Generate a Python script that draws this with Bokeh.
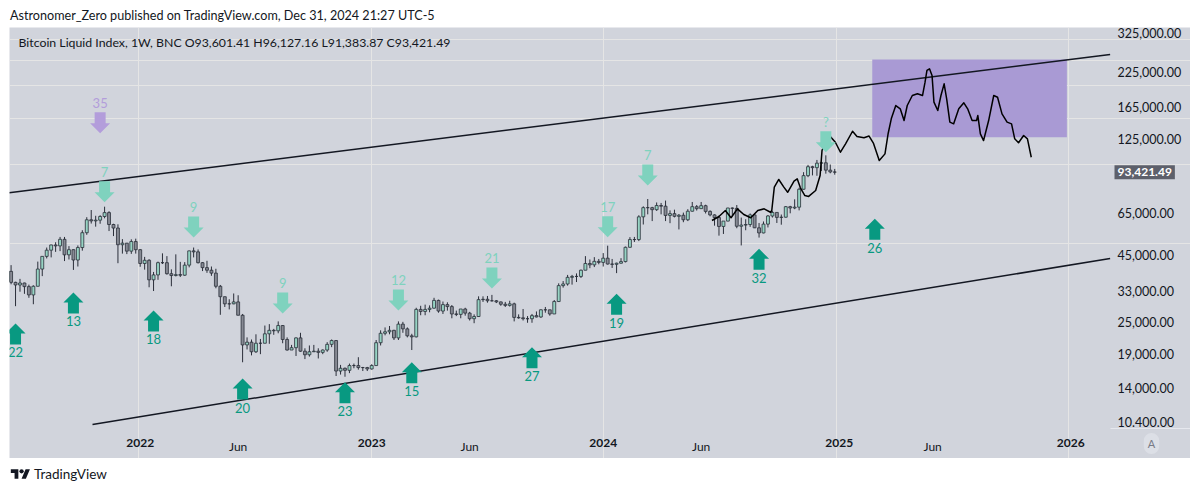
import math
import numpy as np
import pandas as pd
from bokeh.plotting import figure
from bokeh.models import (Range1d, FixedTicker, Label, Div, CustomJSTickFormatter, ColumnDataSource,
                          LogAxis, DatetimeAxis)
from bokeh.layouts import column
from bokeh.embed import file_html
from bokeh.resources import INLINE
from bokeh.core.properties import value

FONT = "Lato"
BG = "#d1d4dc"
INK = "#131722"
UP_FILL = "#97d4c4"
DOWN_FILL = "#878a94"
WICK = "#2a2e39"
DOWN_ARROW = "#7fd2be"
UP_ARROW = "#089981"
PURPLE_ARROW = "#b39ddb"
BOX_FILL = "#a99ad4"

# ---------------- weekly candles (Monday bars) ----------------
FIRST_WEEK = "2021-06-07"
OPEN = [
    35800, 39100, 35500, 34700, 35300, 34200, 31800, 34300, 39900, 44600, 47100, 49300, 48900, 51800, 45200,
    47300, 43200, 48200, 54900, 61500, 60900, 61300, 63300, 65500, 59000, 57200, 49400, 50100, 46700, 50800,
    47300, 41900, 43100, 36300, 37900, 42200, 42200, 38300, 37700, 38000, 37800, 41300, 46800, 46400, 42200,
    40400, 39500, 38500, 34300, 31300, 29400, 29400, 29900, 26600, 20500, 21000, 19300, 20800, 20800, 22600,
    23300, 23200, 24300, 21500, 19600, 20000, 21800, 19400, 18800, 19300, 19400, 19200, 19600, 20600, 21300,
    16300, 16700, 16400, 17100, 17100, 16800, 16800,
    16600, 17100, 20900, 22700, 23000, 23300, 21800, 24600, 23600, 22200, 22000, 28000, 27500, 28000, 28300,
    30300, 27600, 29200, 28700, 26900, 26800, 28100, 27100, 25800, 26300, 30500, 30600, 30200, 30200, 29900,
    29300, 29000, 29400, 26100, 26000, 25800, 25800, 26500, 26200, 27900, 27900, 26900, 30000, 34500, 35000,
    37100, 37400, 37400, 39500, 41900, 41400, 42700,
    42300, 43900, 41700, 41600, 42000, 42600, 48300, 51700, 51700, 63100, 68400, 68400, 67200, 69700, 69300,
    63900, 64900, 63400, 64000, 61500, 66300, 69000, 67800, 69600, 66200, 64200, 62700, 58000, 60800, 68200,
    68000, 58100, 58700, 59000, 64200, 57300, 54800, 59200, 63600, 65600, 62800, 62900, 69000, 68200, 68700,
    80400, 90600, 98000, 97200, 101100, 101400, 95100, 93601.41,
]
HIGH = [
    39500, 41300, 35700, 36600, 35400, 34800, 34600, 42600, 44700, 48200, 49400, 50500, 52900, 52900, 48800,
    47400, 49100, 56100, 62900, 67000, 63700, 64000, 69000, 66300, 59400, 59100, 51900, 50100, 51800, 52100,
    47500, 44400, 43500, 38900, 42600, 45800, 44700, 39800, 45400, 42500, 42400, 46900, 48200, 47400, 42400,
    42900, 40800, 40000, 34700, 31300, 30600, 32200, 31700, 26900, 21900, 21500, 22500, 21600, 24300, 24600,
    23600, 25200, 24400, 21900, 20500, 21900, 22800, 19900, 20400, 20500, 19900, 19700, 21000, 21500, 21400,
    17200, 16800, 17400, 17400, 18400, 16900, 16900,
    17300, 21400, 23300, 23900, 24200, 23400, 25200, 25100, 23900, 22600, 28400, 28900, 29200, 29000, 31000,
    30500, 30000, 29800, 29100, 27700, 27400, 28400, 27400, 26800, 31400, 31400, 31500, 31800, 30400, 30000,
    29900, 30200, 29700, 26800, 28100, 26400, 26900, 27500, 28000, 28600, 27900, 30400, 35200, 35900, 37900,
    37900, 38400, 39700, 44700, 43400, 44300, 43600,
    45900, 49000, 43600, 42200, 43900, 48600, 52800, 52900, 64000, 69200, 73800, 68900, 71600, 71300, 72800,
    66800, 67200, 64700, 65500, 67500, 71900, 70000, 71900, 70200, 66800, 64500, 63800, 60800, 68300, 68500,
    70000, 62700, 61800, 65000, 64900, 59800, 60600, 64100, 66500, 65600, 64400, 69400, 69500, 73600, 81500,
    93400, 99600, 98800, 104000, 102500, 108300, 99900, 96127.16,
]
LOW = [
    31100, 34900, 28800, 32700, 32100, 31000, 29300, 34300, 37500, 43800, 44200, 46400, 46700, 42800, 43400,
    39600, 40800, 46900, 53900, 59500, 57900, 59400, 62300, 55700, 53300, 42000, 45700, 45500, 45600, 45700,
    40700, 39700, 34000, 32900, 36300, 41700, 38000, 34300, 37400, 37200, 37600, 40500, 44200, 41900, 39200,
    38600, 37600, 33700, 26700, 28600, 28000, 29300, 26600, 17600, 19700, 18700, 19100, 18900, 20800, 20700,
    22400, 22700, 20800, 19500, 19600, 18600, 19300, 18100, 18500, 19300, 18200, 18900, 19300, 20100, 15600,
    15800, 15500, 16000, 16700, 16500, 16300, 16300,
    16500, 17100, 20400, 22300, 22500, 21400, 21400, 22800, 21900, 19600, 21900, 26600, 26600, 27300, 28200,
    27200, 26900, 27700, 25900, 26400, 25900, 26500, 25400, 24800, 26200, 29900, 29700, 30000, 29600, 28900,
    28600, 28700, 25200, 25800, 25400, 24900, 24900, 26100, 26000, 27200, 26500, 26900, 29900, 33900, 34500,
    34800, 35600, 36900, 39500, 40200, 40600, 41600,
    40800, 41500, 40300, 38500, 41900, 42300, 48200, 50600, 51000, 59000, 64500, 60800, 66500, 64500, 60800,
    59700, 62800, 56500, 60200, 60800, 66100, 66700, 67600, 65000, 63400, 58400, 53500, 54300, 60700, 63500,
    57100, 49100, 56100, 57800, 57200, 52600, 54600, 57500, 62700, 59800, 58900, 62700, 65100, 67500, 66800,
    80200, 89400, 90800, 90500, 94400, 92200, 92500, 91383.87,
]
CLOSE = [
    39100, 35500, 34700, 35300, 34200, 31800, 34300, 39900, 44600, 47100, 49300, 48900, 51800, 45200, 47300,
    43200, 48200, 54900, 61500, 60900, 61300, 63300, 65500, 59000, 57200, 49400, 50100, 46700, 50800, 47300,
    41900, 43100, 36300, 37900, 42200, 42200, 38300, 37700, 38000, 37800, 41300, 46800, 46400, 42200, 40400,
    39500, 38500, 34300, 31300, 29400, 29400, 29900, 26600, 20500, 21000, 19300, 20800, 20800, 22600, 23300,
    23200, 24300, 21500, 19600, 20000, 21800, 19400, 18800, 19300, 19400, 19200, 19600, 20600, 21300, 16300,
    16700, 16400, 17100, 17100, 16800, 16800, 16600,
    17100, 20900, 22700, 23000, 23300, 21800, 24600, 23600, 22200, 22000, 28000, 27500, 28000, 28300, 30300,
    27600, 29200, 28700, 26900, 26800, 28100, 27100, 25800, 26300, 30500, 30600, 30200, 30200, 29900, 29300,
    29000, 29400, 26100, 26000, 25800, 25800, 26500, 26200, 27900, 27900, 26900, 30000, 34500, 35000, 37100,
    37400, 37400, 39500, 41900, 41400, 42700, 42300,
    43900, 41700, 41600, 42000, 42600, 48300, 51700, 51700, 63100, 68400, 68400, 67200, 69700, 69300, 63900,
    64900, 63400, 64000, 61500, 66300, 69000, 67800, 69600, 66200, 64200, 62700, 58000, 60800, 68200, 68000,
    58100, 58700, 59000, 64200, 57300, 54800, 59200, 63600, 65600, 62800, 62900, 69000, 68200, 68700, 80400,
    90600, 98000, 97200, 101100, 101400, 95100, 93600, 93421.49,
]

# ---------------- axes ----------------
Y_TICKS = [10400, 14000, 19000, 25000, 33000, 45000, 65000, 125000, 165000, 225000, 325000]
Y_LABELS = ["10.400.00", "14,000.00", "19,000.00", "25,000.00", "33,000.00", "45,000.00",
            "65,000.00", "125,000.00", "165,000.00", "225,000.00", "325,000.00"]
YEAR_TICKS = ["2022-01-03", "2023-01-02", "2024-01-01", "2025-01-06", "2026-01-05"]
YEAR_LABELS = ["2022", "2023", "2024", "2025", "2026"]
MONTH_TICKS = ["2022-06-06", "2023-06-05", "2024-06-03", "2025-06-02"]
MONTH_LABELS = ["Jun", "Jun", "Jun", "Jun"]
LAST_PRICE = 93421.49
LAST_PRICE_TEXT = "93,421.49"

# ---------------- arrows ----------------
DOWN_DATES = ["2021-11-01", "2021-11-08", "2022-03-28", "2022-08-15", "2023-02-13", "2023-07-10",
              "2024-01-08", "2024-03-11", "2024-12-16"]
DOWN_PRICES = [131600, 71750, 52640, 27010, 27730, 33640, 52780, 83100, 111300]
DOWN_TEXT = ["35", "7", "9", "9", "12", "21", "17", "7", "?"]
DOWN_COLORS = [PURPLE_ARROW] + [DOWN_ARROW] * 8

UP_DATES = ["2021-06-21", "2021-09-20", "2022-01-24", "2022-06-13", "2022-11-21", "2023-03-06",
            "2023-09-11", "2024-01-22", "2024-09-02", "2025-03-03"]
UP_PRICES = [24740, 32480, 27730, 15260, 14780, 17610, 20090, 32110, 47660, 62030]
UP_TEXT = ["22", "13", "18", "20", "23", "15", "27", "19", "32", "26"]

# ---------------- drawings ----------------
UPPER_DATES = ["2021-06-11", "2026-03-08"]
UPPER_PRICES = [78000, 262500]
LOWER_DATES = ["2021-10-20", "2026-03-08"]
LOWER_PRICES = [10190, 43770]
BOX_LEFT, BOX_RIGHT = "2025-02-27", "2025-12-30"
BOX_BOTTOM, BOX_TOP = 127000, 251200

PATH_DATES = [
    "2024-06-20", "2024-07-01", "2024-07-11", "2024-07-20", "2024-07-30", "2024-08-09", "2024-08-20",
    "2024-08-31", "2024-09-10", "2024-09-20", "2024-09-22", "2024-09-26", "2024-10-03", "2024-10-11",
    "2024-10-17", "2024-10-27", "2024-11-01", "2024-11-06", "2024-11-13", "2024-11-19", "2024-11-30",
    "2024-12-07", "2024-12-10", "2024-12-16", "2024-12-23", "2024-12-31", "2025-01-08", "2025-01-16",
    "2025-01-27", "2025-02-03", "2025-02-14", "2025-02-22", "2025-03-01", "2025-03-10", "2025-03-19",
    "2025-03-24", "2025-03-29", "2025-04-05", "2025-04-12", "2025-04-18", "2025-04-23", "2025-05-01",
    "2025-05-09", "2025-05-17", "2025-05-21", "2025-05-24", "2025-05-28", "2025-06-01", "2025-06-04",
    "2025-06-10", "2025-06-15", "2025-06-20", "2025-06-24", "2025-06-29", "2025-07-05", "2025-07-13",
    "2025-07-21", "2025-07-27", "2025-08-03", "2025-08-10", "2025-08-12", "2025-08-16", "2025-08-21",
    "2025-08-29", "2025-09-06", "2025-09-12", "2025-09-19", "2025-09-27", "2025-10-04", "2025-10-09",
    "2025-10-15", "2025-10-23", "2025-10-29", "2025-11-04",
]
PATH_PRICES = [
    61100, 63300, 66700, 62600, 67700, 64400, 62600,
    66700, 67700, 65700, 66700, 81900, 87600, 81900,
    78300, 86300, 88100, 81400, 76100, 75500, 79500,
    90700, 113000, 122600, 127800, 121500, 111300, 119800,
    133800, 127800, 126300, 128300, 120200, 103500, 109700,
    131200, 149600, 167700, 162900, 147000, 167700, 183100,
    185900, 183100, 205800, 228100, 231500, 218300, 172700,
    160500, 183100, 202900, 177900, 144900, 142800, 162900,
    171700, 162900, 147000, 147000, 153600, 130800, 123300,
    147000, 183100, 180400, 155900, 144900, 142800, 125200,
    120900, 128900, 125200, 106500,
]

HEADER = "Bitcoin Liquid Index, 1W, BNC  O93,601.41  H96,127.16  L91,383.87  C93,421.49"
TITLE = "Astronomer_Zero published on TradingView.com, Dec 31, 2024 21:27 UTC-5"

# ---------------- layout constants ----------------
FIG_W, FIG_H = 1181, 431          # whole grey chart panel
PANE_W, PANE_H = 1101, 401        # price pane (left of price scale, above time scale)


def ms(s):
    return pd.Timestamp(s).value / 1e6


X0, X_PANE = ms("2021-06-11 12:00"), ms("2026-03-08 14:00")   # pane left / right edge
Y_PANE, Y1 = 9840, 332700                                       # pane bottom / top
PX_PER_MS = PANE_W / (X_PANE - X0)
K = PANE_H / math.log(Y1 / Y_PANE)
X_END = X0 + FIG_W / PX_PER_MS
Y_END = Y_PANE * math.exp(-(FIG_H - PANE_H) / K)

p = figure(width=FIG_W, height=FIG_H, x_axis_type="datetime", y_axis_type="log",
           x_axis_location=None, y_axis_location=None,
           x_range=Range1d(X0, X_END), y_range=Range1d(Y_END, Y1),
           output_backend="svg", toolbar_location=None, margin=(0, 0, 0, 9))
p.min_border = 0
p.background_fill_color = BG
p.border_fill_color = BG
p.outline_line_color = None

# price scale
yax = LogAxis(fixed_location=X_PANE, ticker=FixedTicker(ticks=Y_TICKS))
yax.formatter = CustomJSTickFormatter(
    code="const t=%s, l=%s; const i=t.indexOf(tick); return i>=0 ? l[i] : '';" % (Y_TICKS, Y_LABELS))
yax.axis_line_color = None
yax.major_tick_line_color = None
yax.minor_tick_line_color = None
yax.major_tick_out = 0
yax.major_label_standoff = 7
yax.major_label_text_font = FONT
yax.major_label_text_font_size = "12.5px"
yax.major_label_text_color = INK
p.add_layout(yax, "right")

# time scale: years (bold) and months (regular) on the same row
year_ms = [ms(d) for d in YEAR_TICKS]
month_ms = [ms(d) for d in MONTH_TICKS]
for ticks, labels, style in ((year_ms, YEAR_LABELS, "bold"), (month_ms, MONTH_LABELS, "normal")):
    ax = DatetimeAxis(fixed_location=Y_PANE, ticker=FixedTicker(ticks=ticks))
    ax.formatter = CustomJSTickFormatter(
        code="const t=%s, l=%s; const i=t.indexOf(tick); return i>=0 ? l[i] : '';" % (ticks, labels))
    ax.axis_line_color = None
    ax.major_tick_line_color = None
    ax.minor_tick_line_color = None
    ax.major_tick_out = 0
    ax.major_label_standoff = 10
    ax.major_label_text_font = FONT
    ax.major_label_text_font_size = "12px"
    ax.major_label_text_font_style = style
    ax.major_label_text_color = INK
    p.add_layout(ax, "below")

# separator above the auto-scale button
p.segment(x0=[X_PANE], y0=[Y_PANE], x1=[X_END], y1=[Y_PANE], line_color="#e6e8ee", line_width=1)

# target box
p.quad(left=[ms(BOX_LEFT)], right=[ms(BOX_RIGHT)], bottom=[BOX_BOTTOM], top=[BOX_TOP],
       fill_color=BOX_FILL, line_color=None)

# channel
p.line([ms(d) for d in UPPER_DATES], UPPER_PRICES, line_color=INK, line_width=1.5)
p.line([ms(d) for d in LOWER_DATES], LOWER_PRICES, line_color=INK, line_width=1.5)

# candles
dates = pd.date_range(FIRST_WEEK, periods=len(CLOSE), freq="7D")
o = np.array(OPEN, dtype=float)
c = np.array(CLOSE, dtype=float)
src = ColumnDataSource(dict(
    t=dates, high=HIGH, low=LOW, top=np.maximum(o, c), bottom=np.minimum(o, c),
    fill=np.where(c >= o, UP_FILL, DOWN_FILL)))
p.segment(x0="t", y0="low", x1="t", y1="high", source=src, line_color=WICK, line_width=1)
p.vbar(x="t", width=4.6 * 86400000, top="top", bottom="bottom", fill_color="fill",
       line_color=WICK, line_width=0.8, source=src)

# hand drawn projection path
p.line([ms(d) for d in PATH_DATES], PATH_PRICES, line_color="#000000", line_width=1.5,
       line_join="round")

# arrows
DOWN_SHAPE = [(-5.5, -21), (5.5, -21), (5.5, -10), (10, -10), (0, 0), (-10, -10), (-5.5, -10)]
UP_SHAPE = [(dx, -dy) for dx, dy in DOWN_SHAPE]


def arrow(t, price, shape):
    xs = [ms(t) + dx / PX_PER_MS for dx, dy in shape]
    ys = [price * math.exp(-dy / K) for dx, dy in shape]
    return xs, ys


dxs, dys = zip(*[arrow(t, pr, DOWN_SHAPE) for t, pr in zip(DOWN_DATES, DOWN_PRICES)])
p.patches(list(dxs), list(dys), fill_color=DOWN_COLORS, line_color=None)
p.text([ms(t) for t in DOWN_DATES], [pr * math.exp(30 / K) for pr in DOWN_PRICES], text=DOWN_TEXT,
       text_color=DOWN_COLORS, text_align="center", text_baseline="middle",
       text_font=value(FONT), text_font_size="13px")

uxs, uys = zip(*[arrow(t, pr, UP_SHAPE) for t, pr in zip(UP_DATES, UP_PRICES)])
p.patches(list(uxs), list(uys), fill_color=UP_ARROW, line_color=None)
p.text([ms(t) for t in UP_DATES], [pr * math.exp(-29 / K) for pr in UP_PRICES], text=UP_TEXT,
       text_color=UP_ARROW, text_align="center", text_baseline="middle",
       text_font=value(FONT), text_font_size="13px")

# header inside the pane
p.add_layout(Label(x=X0, x_offset=9, y=Y1 * math.exp(-15 / K), text=HEADER, text_font=FONT,
                   text_font_size="12.3px", text_color=INK, text_baseline="middle"))

# last price tag on the price scale
p.add_layout(Label(x=X_PANE, x_offset=4, y=LAST_PRICE, text=LAST_PRICE_TEXT, text_font=FONT,
                   text_font_size="12px", text_font_style="bold", text_color="#ffffff",
                   text_baseline="middle", background_fill_color="#5d606b", padding=3))

# auto-scale button
p.add_layout(Label(x=X_PANE, x_offset=41, y=Y_PANE * math.exp(-15 / K), text="A", text_font=FONT,
                   text_font_size="11px", text_color="#787b86", text_align="center",
                   text_baseline="middle", background_fill_color="#dcdfe6", padding=4,
                   border_radius=9))

title_div = Div(
    text="<div style='font-family:Lato;font-size:12.6px;color:#131722;padding:0 0 0 2px;"
         "line-height:10px;white-space:nowrap'>%s</div>" % TITLE,
    width=1184, height=19, margin=(8, 0, 0, 8))

logo = ("<svg width='21' height='14' viewBox='0 0 36 26' style='margin-right:3px'>"
        "<path d='M14 22H7V11H0V4h14v18zM28 22h-8l7.5-18h8L28 22z' fill='#131722'/>"
        "<circle cx='20' cy='8' r='4' fill='#131722'/></svg>")
footer_div = Div(
    text="<div style='display:flex;align-items:center;padding:9px 0 0 2px;font-family:Lato;"
         "font-size:13.5px;color:#131722;line-height:14px'>%s<span>TradingView</span></div>" % logo,
    width=1184, height=26, margin=(0, 0, 0, 8))

layout = column(title_div, p, footer_div, spacing=0)

with open("out.html", "w") as f:
    f.write(file_html(layout, INLINE))
